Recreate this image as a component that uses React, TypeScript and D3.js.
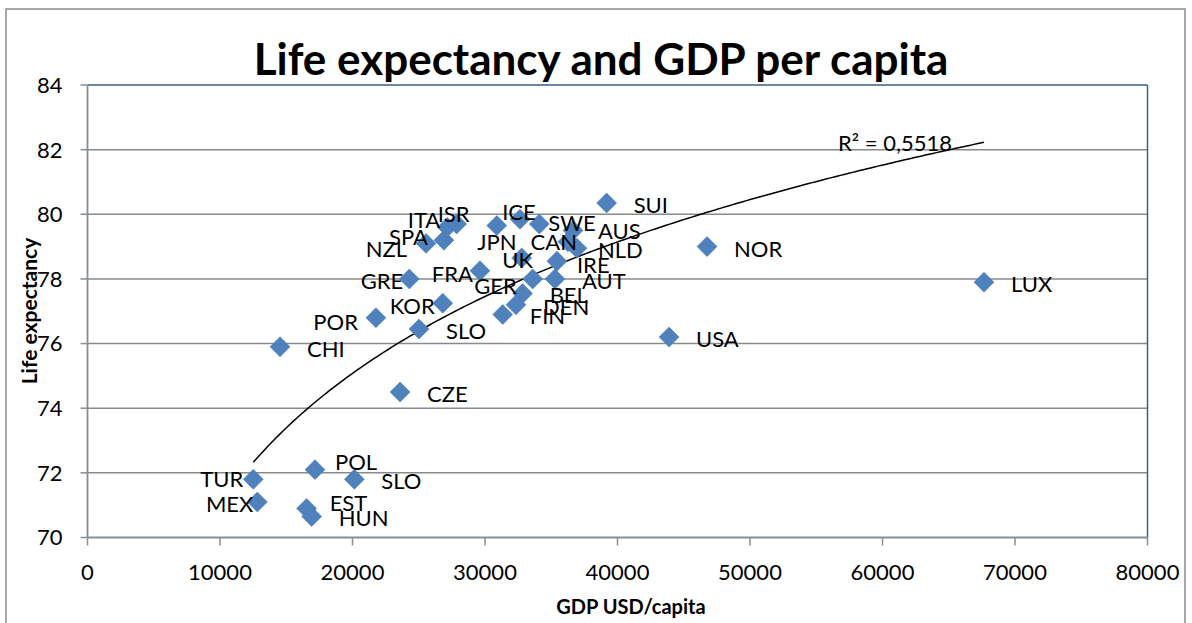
import React from "react";
import * as d3 from "d3";

// ---- data ----
const countries = ["SUI","NOR","LUX","USA","CZE","CHI","POR","SLO","KOR","GRE","FRA","NZL","SPA","ITA","ISR","JPN","ICE","SWE","AUS","CAN","NLD","UK","IRE","GER","AUT","BEL","DEN","FIN","TUR","MEX","POL","SLO","EST","HUN"];
const gdpPerCapita = [39180,46760,67660,43890,23590,14530,21770,25020,26810,24290,29620,25550,26900,27150,27860,30890,32640,34100,36640,36260,36940,32770,35430,33600,35280,32840,32340,31340,12510,12820,17170,20140,16540,16920];
const lifeExpectancy = [80.35,79.0,77.9,76.2,74.5,75.9,76.8,76.45,77.25,78.0,78.25,79.1,79.2,79.6,79.7,79.65,79.85,79.7,79.5,79.15,78.95,78.65,78.55,78.0,78.0,77.55,77.2,76.9,71.8,71.1,72.1,71.8,70.9,70.65];
const xTicks = [0,10000,20000,30000,40000,50000,60000,70000,80000];
const yTicks = [70,72,74,76,78,80,82,84];
const titleText = "Life expectancy and GDP per capita";
const xTitle = "GDP USD/capita";
const yTitle = "Life expectancy";
const r2Text = "R\u00B2 = 0,5518";

// label placement (layout only): [dx, dy, anchor]
const labelPlacement: Record<string, [number, number, string]> = {
  POR: [-18, 4, "end"],
  KOR: [-8, 3, "end"],
  GRE: [-6, 2, "end"],
  FRA: [-7, 3, "end"],
  NZL: [-19, 6, "end"],
  SPA: [-16, -3, "end"],
  ITA: [-7, -7, "end"],
  ISR: [-3, -10, "middle"],
  ICE: [-1, -7, "middle"],
  JPN: [0, 16, "middle"],
  SWE: [9, -1, "start"],
  AUS: [25, 1, "start"],
  CAN: [9, 0, "end"],
  NLD: [21, 2, "start"],
  UK: [-4, 2, "middle"],
  IRE: [20, 4, "start"],
  GER: [-16, 7, "end"],
  TUR: [-10, 0, "end"],
  MEX: [-4, 2, "end"],
  POL: [20, -8, "start"],
  EST: [23, -5, "start"],
};

const W = 1192, H = 623;
const M = { left: 87.5, right: 1147.5, top: 85, bottom: 537.5 };
const FONT = "Lato, 'Open Sans', sans-serif";

export default function App() {
  const x = d3.scaleLinear().domain([0, 80000]).range([M.left, M.right]);
  const y = d3.scaleLinear().domain([70, 84]).range([M.bottom, M.top]);

  // logarithmic trendline (least squares on ln x)
  const lx = gdpPerCapita.map((v) => Math.log(v));
  const mx = d3.mean(lx)!, my = d3.mean(lifeExpectancy)!;
  let sxy = 0, sxx = 0;
  lx.forEach((v, i) => { sxy += (v - mx) * (lifeExpectancy[i] - my); sxx += (v - mx) ** 2; });
  const a = sxy / sxx, b = my - a * mx;
  const [x0, x1] = d3.extent(gdpPerCapita) as [number, number];
  const trendPts = d3.range(0, 201).map((i) => {
    const xv = x0 + (x1 - x0) * (i / 200);
    return [xv, a * Math.log(xv) + b] as [number, number];
  });
  const line = d3.line<[number, number]>().x((d) => x(d[0])).y((d) => y(d[1]));
  const trendEnd = trendPts[trendPts.length - 1];

  const diamond = d3.symbol().type(d3.symbolSquare).size(200)()!;

  return (
    <svg width={W} height={H} style={{ position: "absolute", left: 0, top: 0, background: "#fff" }} fontFamily={FONT}>
      <rect x={6} y={9} width={1179} height={640} fill="#fff" stroke="#8c8c8c" strokeWidth={1.5} />
      <text x={601} y={75} textAnchor="middle" fontSize={44} fontWeight="bold" fill="#000">{titleText}</text>

      {/* gridlines */}
      {yTicks.filter((t) => t > 70 && t < 84).map((t) => (
        <line key={t} x1={M.left} x2={M.right} y1={y(t)} y2={y(t)} stroke="#8a8a8a" strokeWidth={1.5} />
      ))}
      {/* plot border top/right */}
      <line x1={M.left} x2={M.right} y1={M.top} y2={M.top} stroke="#385d8a" strokeWidth={1.5} />
      <line x1={M.right} x2={M.right} y1={M.top} y2={M.bottom} stroke="#385d8a" strokeWidth={1.5} />
      {/* axes */}
      <line x1={M.left} x2={M.left} y1={M.top} y2={M.bottom} stroke="#868e96" strokeWidth={1.8} />
      <line x1={M.left} x2={M.right} y1={M.bottom} y2={M.bottom} stroke="#868e96" strokeWidth={1.8} />
      {yTicks.map((t) => (
        <g key={t}>
          <line x1={M.left - 7} x2={M.left} y1={y(t)} y2={y(t)} stroke="#868e96" strokeWidth={1.5} />
          <text x={M.left - 25} y={y(t)} dy="0.36em" textAnchor="end" fontSize={22} fill="#000">{t}</text>
        </g>
      ))}
      {xTicks.map((t) => (
        <g key={t}>
          <line x1={x(t)} x2={x(t)} y1={M.bottom} y2={M.bottom + 8} stroke="#868e96" strokeWidth={1.5} />
          <text x={x(t)} y={572} dy="0.36em" textAnchor="middle" fontSize={22} fill="#000">{t}</text>
        </g>
      ))}
      <text x={631} y={607} dy="0.36em" textAnchor="middle" fontSize={20} fontWeight="bold">{xTitle}</text>
      <text transform={`translate(29,311) rotate(-90)`} dy="0.36em" textAnchor="middle" fontSize={21} fontWeight="bold">{yTitle}</text>

      {/* trendline */}
      <path d={line(trendPts)!} fill="none" stroke="#000" strokeWidth={1.5} />
      <text x={x(trendEnd[0]) - 146} y={y(trendEnd[1]) + 1} dy="0.36em" fontSize={22} fill="#000">{r2Text}</text>

      {/* points */}
      {gdpPerCapita.map((g, i) => (
        <path key={i} d={diamond} transform={`translate(${x(g)},${y(lifeExpectancy[i])}) rotate(45)`} fill="#4f81bd" stroke="#4a7ab5" strokeWidth={0.5} />
      ))}
      {/* labels */}
      {gdpPerCapita.map((g, i) => {
        const p = labelPlacement[countries[i]] || [27, 2, "start"];
        return (
          <text key={i} x={x(g) + p[0]} y={y(lifeExpectancy[i]) + p[1]} dy="0.36em" textAnchor={p[2] as any} fontSize={22} fill="#000">{countries[i]}</text>
        );
      })}
    </svg>
  );
}
